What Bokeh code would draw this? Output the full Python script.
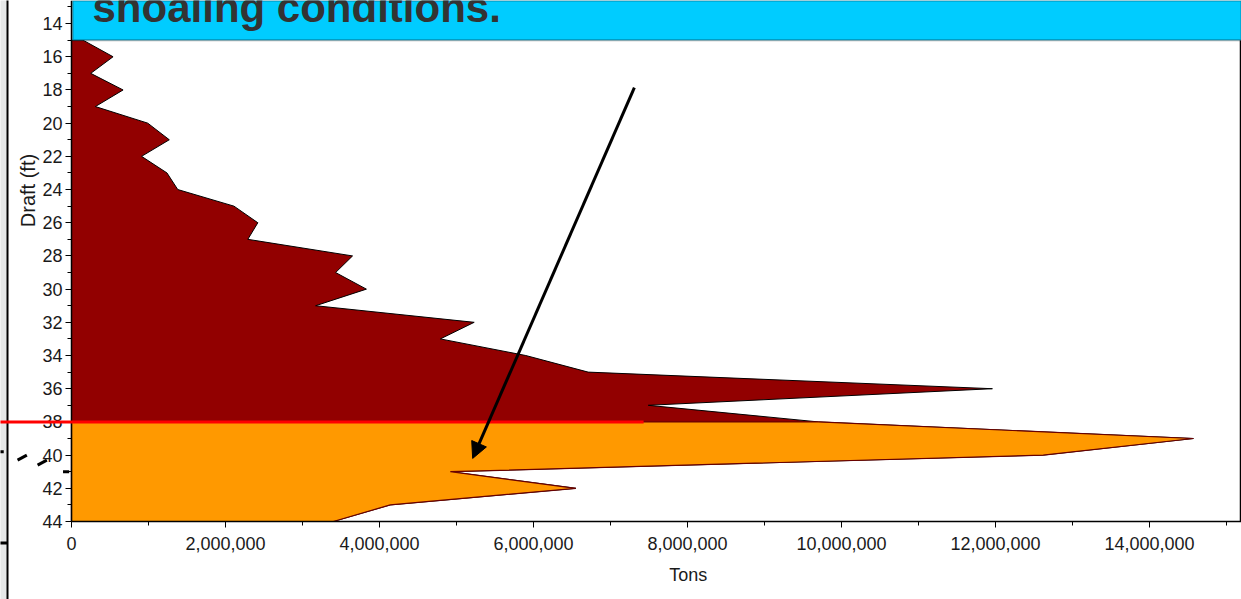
from math import pi

from bokeh.embed import file_html
from bokeh.models import (Arrow, BoxAnnotation, FixedTicker, Label, NormalHead,
                          NumeralTickFormatter, PolyAnnotation, Range1d)
from bokeh.plotting import figure
from bokeh.resources import INLINE

# Vessel tonnage by draft (ft); values in tons
drafts = [15, 16, 17, 18, 19, 20, 21, 22, 23, 24, 25, 26, 27, 28, 29,
          30, 31, 32, 33, 34, 35, 36, 37, 38, 39, 40, 41, 42, 43, 44]
tons = [150_000, 540_000, 250_000, 670_000, 310_000, 990_000, 1_270_000,
        910_000, 1_240_000, 1_380_000, 2_110_000, 2_420_000, 2_290_000,
        3_650_000, 3_430_000, 3_830_000, 3_170_000, 5_230_000, 4_790_000,
        5_900_000, 6_710_000, 11_960_000, 7_490_000, 9_700_000, 14_570_000,
        12_620_000, 4_920_000, 6_550_000, 4_140_000, 3_400_000]

channel_depth = 38          # drafts at or below this are highlighted
title_text = "shoaling conditions."
x_label = "Tons"
y_label = "Draft (ft)"
x_ticks = [0, 2_000_000, 4_000_000, 6_000_000, 8_000_000, 10_000_000,
           12_000_000, 14_000_000]
x_minor = [1_000_000, 3_000_000, 5_000_000, 7_000_000, 9_000_000, 11_000_000,
           13_000_000, 15_000_000]
y_ticks = [14, 16, 18, 20, 22, 24, 26, 28, 30, 32, 34, 36, 38, 40, 42, 44]
y_minor = [13, 15, 17, 19, 21, 23, 25, 27, 29, 31, 33, 35, 37, 39, 41, 43]

FONT = "Liberation Sans"
X_RIGHT = 15_182_000        # right border of the plotting area

# the frame fills the whole canvas; both axes are pinned to data positions
p = figure(width=1241, height=599, output_backend="svg", toolbar_location=None,
           x_range=Range1d(-922_000, 15_195_000), y_range=Range1d(48.70, 12.61),
           min_border=0, min_border_left=0, min_border_right=0,
           min_border_top=0, min_border_bottom=0,
           background_fill_color="white", border_fill_color="white")
p.grid.visible = False
p.outline_line_color = None

# full distribution
xs_all = [0] + tons + [0]
ys_all = [drafts[0]] + drafts + [drafts[-1]]
p.patch(xs_all, ys_all, fill_color="#920000", line_color="black", line_width=1)

# portion at or deeper than the channel depth
deep = [(d, t) for d, t in zip(drafts, tons) if d >= channel_depth]
xs_deep = [0, deep[0][1]] + [t for d, t in deep[1:]] + [0]
ys_deep = [channel_depth, channel_depth] + [d for d, t in deep[1:]] + [drafts[-1]]
p.patch(xs_deep, ys_deep, fill_color="#FF9900", line_color="#6a0000", line_width=1.2)

# axes
xa, ya = p.xaxis[0], p.yaxis[0]
xa.fixed_location = 44
ya.fixed_location = 0
xa.bounds = (0, 16_000_000)
ya.bounds = (4, 44)
xa.ticker = FixedTicker(ticks=x_ticks, minor_ticks=x_minor)
ya.ticker = FixedTicker(ticks=y_ticks, minor_ticks=y_minor)
xa.formatter = NumeralTickFormatter(format="0,0")
for ax in (xa, ya):
    ax.axis_line_color = "black"
    ax.axis_line_width = 1.5
    ax.major_tick_line_color = "black"
    ax.minor_tick_line_color = "black"
    ax.major_tick_out = 6
    ax.major_tick_in = 0
    ax.minor_tick_out = 4
    ax.minor_tick_in = 0
    ax.major_label_text_font = FONT
    ax.major_label_text_font_size = "18px"
    ax.major_label_text_color = "#1a1a1a"
xa.major_label_standoff = 10
ya.major_label_standoff = 3

# axis titles
p.add_layout(Label(x=8_010_000, y=47.25, text=x_label, text_font=FONT,
                   text_font_size="18px", text_color="#1a1a1a",
                   text_align="center", text_baseline="middle"))
p.add_layout(Label(x=-571_000, y=24.06, text=y_label, angle=pi / 2,
                   text_font=FONT, text_font_size="20px", text_color="#1a1a1a",
                   text_align="center", text_baseline="middle"))

# right border of the plotting area
p.add_layout(Arrow(end=None, x_start=X_RIGHT, y_start=15, x_end=X_RIGHT,
                   y_end=44, line_color="black", line_width=1.5))

# slide margin at the far left
p.add_layout(PolyAnnotation(xs=[-930_000, -840_000, -840_000, -930_000],
                            ys=[10, 10, 50, 50], fill_color="#e6e8e8",
                            fill_alpha=1, line_color=None))
p.add_layout(Arrow(end=None, x_start=-831_000, y_start=10, x_end=-831_000,
                   y_end=50, line_color="black", line_width=2))
for x0, y0, x1, y1 in [(-930_000, 39.8, -880_000, 39.8),
                       (-700_000, 40.3, -580_000, 40.0),
                       (-440_000, 40.6, -320_000, 40.3),
                       (-110_000, 41.0, -30_000, 41.0),
                       (-930_000, 45.3, -830_000, 45.3)]:
    p.add_layout(Arrow(end=None, x_start=x0, y_start=y0, x_end=x1, y_end=y1,
                       line_color="black", line_width=3))

# channel depth marker
p.add_layout(Arrow(end=None, x_start=-930_000, y_start=channel_depth,
                   x_end=7_430_000, y_end=channel_depth,
                   line_color="#FF0000", line_width=3))

# callout arrow
p.add_layout(Arrow(end=NormalHead(size=16, fill_color="black", line_color="black"),
                   x_start=7_310_000, y_start=17.86, x_end=5_210_000, y_end=40.2,
                   line_color="black", line_width=3))

# heading banner
p.add_layout(BoxAnnotation(left=13_000, bottom=15.0, fill_color="#00CCFF",
                           fill_alpha=1, line_color="black", line_width=2))
p.add_layout(Label(x=273_000, y=13.06, text=title_text, text_font=FONT,
                   text_font_size="42px", text_font_style="bold",
                   text_color="#333333", text_baseline="alphabetic"))

open("out.html", "w").write(file_html(p, INLINE))
